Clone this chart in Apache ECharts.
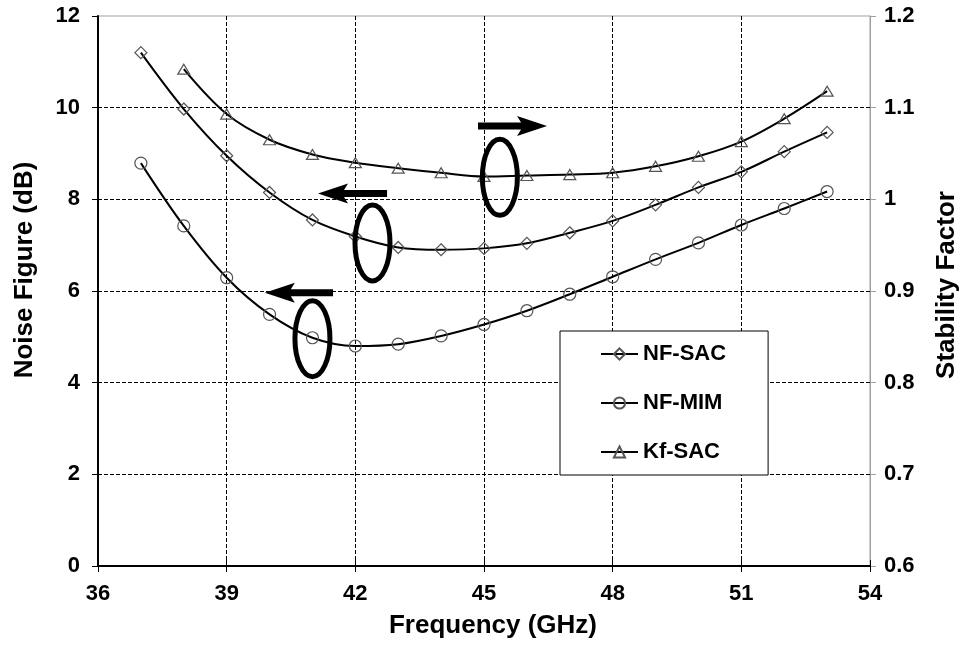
<!DOCTYPE html>
<html>
<head>
<meta charset="utf-8">
<script src="https://cdn.jsdelivr.net/npm/echarts@6/dist/echarts.min.js"></script>
<style>
  html, body { margin: 0; padding: 0; background: #fff; overflow: hidden; }
  #chart { width: 964px; height: 650px; }
</style>
</head>
<body>
<div id="chart"></div>
<script>
// Frequency points (GHz)
const freqNF = [37, 38, 39, 40, 41, 42, 43, 44, 45, 46, 47, 48, 49, 50, 51, 52, 53];
const freqKf = [38, 39, 40, 41, 42, 43, 44, 45, 46, 47, 48, 49, 50, 51, 52, 53];

// Noise figure (dB)
const nfSAC = [11.2, 9.97, 8.95, 8.15, 7.55, 7.19, 6.95, 6.9, 6.93, 7.04, 7.27, 7.53, 7.88, 8.26, 8.6, 9.04, 9.46];
const nfMIM = [8.79, 7.42, 6.29, 5.49, 4.98, 4.8, 4.84, 5.02, 5.27, 5.57, 5.93, 6.31, 6.69, 7.05, 7.44, 7.8, 8.17];

// Stability factor
const kfSAC = [1.142, 1.093, 1.065, 1.049, 1.04, 1.034, 1.029, 1.025, 1.026, 1.027, 1.029, 1.036, 1.047, 1.063, 1.088, 1.118];

const seriesNames = ['NF-SAC', 'NF-MIM', 'Kf-SAC'];

// Callout groups: ellipse centre (GHz, dB) and arrow tail/tip (GHz, dB)
const calloutEllipses = [[45.37, 8.48], [42.40, 7.05], [41.00, 4.96]];
const calloutArrows = [
  [[44.86, 9.60], [46.47, 9.60]],
  [[42.74, 8.13], [41.13, 8.13]],
  [[41.48, 5.96], [39.89, 5.96]]
];

const FONT = '"Liberation Sans", Arial, sans-serif';
const pair = (xs, ys) => xs.map((x, i) => [x, ys[i]]);

const chart = echarts.init(document.getElementById('chart'), null, { renderer: 'canvas', width: 964, height: 650 });

const markerStyle = { color: 'rgba(255,255,255,0)', borderColor: '#555', borderWidth: 1.2 };
const lineStyle = { color: '#000', width: 2 };

const option = {
  backgroundColor: '#fff',
  animation: false,
  grid: {
    left: 98, right: 94, top: 16, bottom: 84,
    outerBoundsMode: 'none',
    show: true, borderColor: '#a0a0a0', borderWidth: 1, backgroundColor: 'transparent'
  },
  legend: {
    orient: 'vertical',
    left: 560, top: 331,
    padding: [12, 42, 12, 40],
    itemGap: 27,
    itemWidth: 37, itemHeight: 14,
    borderColor: '#000', borderWidth: 1,
    backgroundColor: '#fff',
    data: seriesNames,
    textStyle: { fontFamily: FONT, fontWeight: 'bold', fontSize: 22, color: '#000' }
  },
  xAxis: [{
    type: 'value', min: 36, max: 54, interval: 3,
    name: 'Frequency (GHz)', nameLocation: 'middle', nameGap: 47,
    nameTextStyle: { fontFamily: FONT, fontWeight: 'bold', fontSize: 26, color: '#000', padding: [0, 0, 0, 18] },
    axisLine: { lineStyle: { color: '#000', width: 2 } },
    axisTick: { show: true, length: 6, lineStyle: { color: '#000', width: 1 } },
    axisLabel: { fontFamily: FONT, fontWeight: 'bold', fontSize: 22, color: '#000', margin: 17 },
    splitLine: { show: true, showMinLine: false, showMaxLine: false, lineStyle: { color: '#000', width: 1, type: [4, 2] } }
  }, {
    // inner half of the crossing tick marks on the frequency axis
    type: 'value', min: 36, max: 54, interval: 3, position: 'bottom',
    axisLine: { show: false },
    axisTick: { show: true, inside: true, length: 6, lineStyle: { color: '#000', width: 1 } },
    axisLabel: { show: false },
    splitLine: { show: false }
  }],
  yAxis: [{
    type: 'value', min: 0, max: 12, interval: 2, position: 'left',
    name: 'Noise Figure (dB)', nameLocation: 'middle', nameGap: 60,
    nameTextStyle: { fontFamily: FONT, fontWeight: 'bold', fontSize: 26, color: '#000', padding: [0, 0, 0, 42] },
    axisLine: { show: true, lineStyle: { color: '#000', width: 2 } },
    axisTick: { show: true, length: 6, lineStyle: { color: '#000', width: 1 } },
    axisLabel: { fontFamily: FONT, fontWeight: 'bold', fontSize: 22, color: '#000', margin: 18 },
    splitLine: { show: true, showMinLine: false, showMaxLine: false, lineStyle: { color: '#000', width: 1, type: [4, 2] } }
  }, {
    type: 'value', min: 0.6, max: 1.2, interval: 0.1, position: 'right',
    name: 'Stability Factor', nameLocation: 'middle', nameGap: 64,
    nameTextStyle: { fontFamily: FONT, fontWeight: 'bold', fontSize: 26, color: '#000', padding: [0, 0, 0, 12] },
    axisLine: { show: true, lineStyle: { color: '#a0a0a0', width: 1 } },
    axisTick: { show: true, length: 6, lineStyle: { color: '#a0a0a0', width: 1 } },
    axisLabel: { fontFamily: FONT, fontWeight: 'bold', fontSize: 22, color: '#000', margin: 14,
      formatter: v => String(+v.toFixed(1)) },
    splitLine: { show: false }
  }],
  series: [{
    name: seriesNames[0], type: 'line', smooth: 0.35, xAxisIndex: 0, yAxisIndex: 0,
    data: pair(freqNF, nfSAC),
    symbol: 'diamond', symbolSize: [12, 12],
    lineStyle, itemStyle: markerStyle, z: 3
  }, {
    name: seriesNames[1], type: 'line', smooth: 0.35, xAxisIndex: 0, yAxisIndex: 0,
    data: pair(freqNF, nfMIM),
    symbol: 'circle', symbolSize: 12,
    lineStyle, itemStyle: markerStyle, z: 3
  }, {
    name: seriesNames[2], type: 'line', smooth: 0.35, xAxisIndex: 0, yAxisIndex: 1,
    data: pair(freqKf, kfSAC),
    symbol: 'triangle', symbolSize: [12, 10],
    lineStyle, itemStyle: markerStyle, z: 3
  }]
};

chart.setOption(option);

// Callout ellipses and arrows placed from data coordinates
function arrowPoints(tail, tip) {
  const dir = Math.sign(tip[0] - tail[0]);
  const headLen = 30, halfShaft = 3.5, halfHead = 10, notch = 4;
  const y = tip[1];
  const base = tip[0] - dir * headLen;
  return [
    [tail[0], y - halfShaft], [base + dir * notch, y - halfShaft], [base, y - halfHead],
    [tip[0], y], [base, y + halfHead], [base + dir * notch, y + halfShaft], [tail[0], y + halfShaft]
  ];
}

const graphics = [];
calloutEllipses.forEach(c => {
  const p = chart.convertToPixel({ xAxisIndex: 0, yAxisIndex: 0 }, c);
  graphics.push({
    type: 'ellipse', z: 10,
    shape: { cx: p[0], cy: p[1], rx: 17.5, ry: 38 },
    style: { fill: null, stroke: '#000', lineWidth: 5 }
  });
});
calloutArrows.forEach(a => {
  const tail = chart.convertToPixel({ xAxisIndex: 0, yAxisIndex: 0 }, a[0]);
  const tip = chart.convertToPixel({ xAxisIndex: 0, yAxisIndex: 0 }, a[1]);
  graphics.push({
    type: 'polygon', z: 10,
    shape: { points: arrowPoints(tail, tip) },
    style: { fill: '#000', stroke: null }
  });
});
chart.setOption({ graphic: graphics });
</script>
</body>
</html>
